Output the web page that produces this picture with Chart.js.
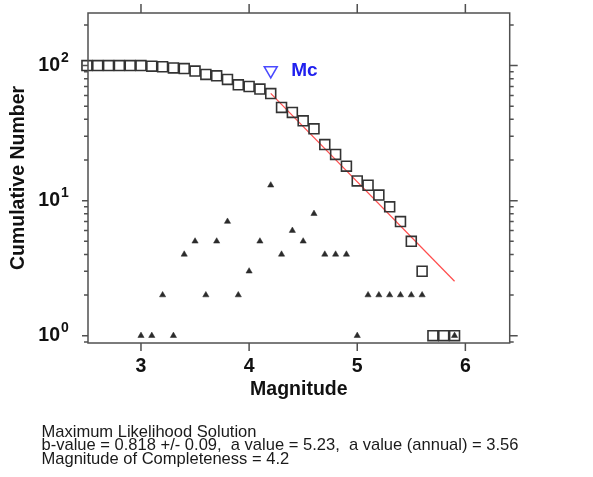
<!DOCTYPE html>
<html><head><meta charset="utf-8">
<script src="https://cdn.jsdelivr.net/npm/chart.js@4.4.0/dist/chart.umd.min.js"></script>
<style>
html,body{margin:0;padding:0;background:#fff;}
#wrap{position:relative;width:593px;height:477px;overflow:hidden;}
canvas{position:absolute;left:0;top:0;}
#stats{position:absolute;left:41.5px;top:425px;font:16.55px "Liberation Sans",Arial,sans-serif;line-height:13.35px;color:#1a1a1a;white-space:pre;}
</style></head><body>
<div id="wrap"><canvas id="c" width="593" height="477"></canvas><div id="stats"></div></div>
<script>
// ---- data ----
const magnitudes = [2.5,2.6,2.7,2.8,2.9,3.0,3.1,3.2,3.3,3.4,3.5,3.6,3.7,3.8,3.9,4.0,4.1,4.2,4.3,4.4,4.5,4.6,4.7,4.8,4.9,5.0,5.1,5.2,5.3,5.4,5.5,5.6,5.7,5.8,5.9];
const cumulativeCounts = [100,100,100,100,100,100,99,98,96,95,91,86,84,79,72,70,67,62,49,45,39,34,26,22,18,14,13,11,9,7,5,3,1,1,1];
const binMagnitudes = [3.0,3.1,3.2,3.3,3.4,3.5,3.6,3.7,3.8,3.9,4.0,4.1,4.2,4.3,4.4,4.5,4.6,4.7,4.8,4.9,5.0,5.1,5.2,5.3,5.4,5.5,5.6,5.9];
const binCounts = [1,1,2,1,4,5,2,5,7,2,3,5,13,4,6,5,8,4,4,4,1,2,2,2,2,2,2,1];
const fitMagnitudes = [4.2,5.9];
const fitCounts = [62.2,2.53];
const mcMagnitude = [4.2];
const mcMarkerCount = [92];
const xTickValues = [3,4,5,6];
const yTickValues = [1,10,100];
const xTitle = 'Magnitude';
const yTitle = 'Cumulative Number';
const mcLabel = 'Mc';
const statsLines = ['Maximum Likelihood Solution','b-value = 0.818 +/- 0.09,  a value = 5.23,  a value (annual) = 3.56','Magnitude of Completeness = 4.2'];

document.getElementById('stats').textContent = statsLines.join('\n');

const FONT = '"Liberation Sans", Arial, sans-serif';
const pts = (xs, ys) => xs.map((v,i)=>({x:v,y:ys[i]}));

const decor = {
  id:'decor',
  afterDraw(chart){
    const {ctx, chartArea:a, scales:{x,y}} = chart;
    ctx.save();
    ctx.strokeStyle = '#505050';
    ctx.lineWidth = 1.5;
    ctx.strokeRect(a.left, a.top, a.right-a.left, a.bottom-a.top);
    ctx.beginPath();
    for (let d=-1; d<=3; d++){
      for (let k=1; k<=9; k++){
        const v = k*Math.pow(10,d);
        if (v < y.min || v > y.max) continue;
        const py = y.getPixelForValue(v);
        const major = k===1;
        ctx.moveTo(a.left - (major?6:4), py); ctx.lineTo(a.left, py);
        ctx.moveTo(a.right, py); ctx.lineTo(a.right + (major?8:4), py);
      }
    }
    xTickValues.forEach(v=>{
      const px = x.getPixelForValue(v);
      ctx.moveTo(px, a.bottom); ctx.lineTo(px, a.bottom+8);
      ctx.moveTo(px, a.top-9); ctx.lineTo(px, a.top);
    });
    ctx.stroke();
    // exponents of y tick labels
    ctx.fillStyle = '#111';
    ctx.font = 'bold 14px ' + FONT;
    ctx.textAlign = 'left';
    ctx.textBaseline = 'alphabetic';
    yTickValues.forEach(v=>{
      const py = y.getPixelForValue(v);
      ctx.fillText(String(Math.round(Math.log10(v))), a.left - 27, py - 3.7);
    });
    // Mc label
    ctx.fillStyle = '#2020ee';
    ctx.font = 'bold 19px ' + FONT;
    ctx.textBaseline = 'middle';
    ctx.fillText(mcLabel, x.getPixelForValue(mcMagnitude[0]) + 20.5, y.getPixelForValue(mcMarkerCount[0]));
    ctx.restore();
  }
};

function noPad(s){ s.paddingTop = 0; s.paddingBottom = 0; s.paddingLeft = 0; s.paddingRight = 0; }
const BOLD = {family:FONT, size:19.5, weight:'bold'};

new Chart(document.getElementById('c'), {
  type:'scatter',
  data:{datasets:[
    {label:'bins', data:pts(binMagnitudes,binCounts), pointStyle:'triangle', pointRadius:3.6, backgroundColor:'#2b2b2b', borderColor:'#2b2b2b', borderWidth:0.5},
    {label:'Mc', data:pts(mcMagnitude,mcMarkerCount), pointStyle:'triangle', rotation:180, pointRadius:7.5, backgroundColor:'rgba(0,0,0,0)', borderColor:'#4a4aff', borderWidth:1.5, clip:false},
    {label:'cumulative', data:pts(magnitudes,cumulativeCounts), pointStyle:'rect', pointRadius:7, backgroundColor:'rgba(0,0,0,0)', borderColor:'#333', borderWidth:1.6, clip:false},
    {label:'fit', type:'line', data:pts(fitMagnitudes,fitCounts), showLine:true, pointRadius:0, borderColor:'#ff4d4d', borderWidth:1.2, fill:false}
  ]},
  options:{
    responsive:false, animation:false, devicePixelRatio:1,
    layout:{padding:{top:13,right:83.3,bottom:74,left:0}},
    plugins:{legend:{display:false}, tooltip:{enabled:false}},
    scales:{
      x:{type:'linear', min:2.51, max:6.41, bounds:'data',
        grid:{display:false, drawTicks:false}, border:{display:false},
        afterBuildTicks:s=>{s.ticks = xTickValues.map(v=>({value:v}));},
        afterFit:s=>{s.height = 60; noPad(s);},
        ticks:{padding:12.3, color:'#111', font:BOLD, callback:v=>String(v), maxRotation:0},
        title:{display:true, text:xTitle, color:'#111', font:BOLD, padding:{top:0,bottom:1.3}}
      },
      y:{type:'logarithmic', min:0.883, max:245, bounds:'data',
        grid:{display:false, drawTicks:false}, border:{display:false},
        afterBuildTicks:s=>{s.ticks = yTickValues.map(v=>({value:v}));},
        afterFit:s=>{s.width = 88; noPad(s);},
        ticks:{padding:28, color:'#111', font:BOLD, callback:()=> '10'},
        title:{display:true, text:yTitle, color:'#111', font:BOLD, padding:{top:7.1,bottom:0}}
      }
    }
  },
  plugins:[decor]
});
</script>
</body></html>
